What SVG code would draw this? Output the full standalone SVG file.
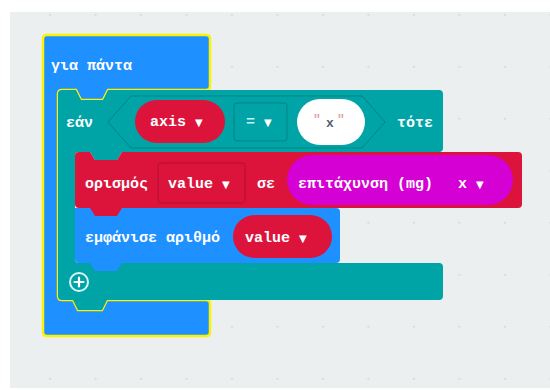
<svg xmlns="http://www.w3.org/2000/svg" width="550" height="390" viewBox="0 0 550 390">
<defs>
<style>
.t{font-family:"Liberation Mono","DejaVu Sans Mono",monospace;font-weight:bold;font-size:15px;fill:#ffffff}
.arr{font-family:"DejaVu Sans",sans-serif;font-size:10px;font-weight:normal}
.blue{fill:#1e90ff}
.teal{fill:#00a4a6}
.red{fill:#dc143c}
.mag{fill:#d400d4}
.dot{fill:#d6dadd}
</style>
<pattern id="grid" x="4.5" y="14" width="45.5" height="52" patternUnits="userSpaceOnUse">
<circle class="dot" cx="45.5" cy="0.5" r="1.2"/>
<circle class="dot" cx="0" cy="0.5" r="1.2"/>
</pattern>
</defs>
<rect x="0" y="0" width="550" height="390" fill="#ffffff"/>
<rect x="10" y="12" width="540" height="376" fill="#ebeff0"/>
<rect x="10" y="12" width="540" height="376" fill="url(#grid)"/>

<g id="forever">
<path class="blue" stroke="#fff200" stroke-width="2.5" d="M47,35 H206 Q210,35 210,39 V86 Q210,90 206,90 H108 L103,100 H81 L76,90 H62 Q58,90 58,94 V296 Q58,300 62,300 H73 L78,310 H102 L107,300 H206 Q210,300 210,304 V332 Q210,336 206,336 H47 Q43,336 43,332 V39 Q43,35 47,35 Z"/>
<text class="t" x="51" y="70">για πάντα</text>
</g>

<g id="if">
<path class="teal" d="M58,94 Q58,90 62,90 H76 L81,100 H103 L108,90 H439 Q443,90 443,94 V148 Q443,152 439,152 H122 L117,160 H95 L90,152 H79 Q75,152 75,156 V259 Q75,263 79,263 H439 Q443,263 443,267 V296 Q443,300 439,300 H107 L102,310 H78 L73,300 H62 Q58,300 58,296 Z"/>
<text class="t" x="66" y="127">εάν</text>
<text class="t" x="397" y="127">τότε</text>
<g id="plus">
<circle cx="79" cy="282" r="9" fill="none" stroke="#d8f6f6" stroke-width="2"/>
<path d="M79,277.5 V286.5 M74.5,282 H83.5" stroke="#ffffff" stroke-width="2.2" stroke-linecap="round"/>
</g>
</g>

<g id="compare">
<path class="teal" stroke="#008385" stroke-width="1" d="M108,122 L131,96 H362 L385,122 L362,148 H131 Z"/>
</g>

<g id="axis">
<rect class="red" x="135" y="100" width="90" height="43" rx="21.5"/>
<text class="t" x="150" y="126">axis <tspan class="arr">▼</tspan></text>
</g>

<g id="op">
<rect class="teal" stroke="#008385" stroke-width="1" x="234" y="103" width="53" height="38" rx="3"/>
<text class="t" x="246" y="126" style="fill:#c8f0f0">= <tspan class="arr" style="fill:#ffffff">▼</tspan></text>
</g>

<g id="string">
<rect x="297" y="99" width="68" height="46" rx="23" fill="#ffffff"/>
<text class="t" y="127" style="font-size:13px"><tspan x="313" dy="-4" style="fill:#e8a0a8">"</tspan><tspan x="326" dy="4" style="fill:#575e75">x</tspan><tspan x="337" dy="-4" style="fill:#e8a0a8">"</tspan></text>
</g>

<g id="show">
<path class="blue" d="M75,208 H336 Q340,208 340,212 V259 Q340,263 336,263 H122 L117,271 H95 L90,263 H79 Q75,263 75,259 Z"/>
<text class="t" x="85" y="242">εμφάνισε αριθμό</text>
</g>

<g id="valueReporter">
<rect class="red" x="233" y="215" width="99" height="43" rx="21.5"/>
<text class="t" x="245" y="242">value <tspan class="arr">▼</tspan></text>
</g>

<g id="set">
<path class="red" d="M75,156 Q75,152 79,152 H90 L95,160 H117 L122,152 H518 Q522,152 522,156 V204 Q522,208 518,208 H122 L117,216 H95 L90,208 H79 Q75,208 75,204 Z"/>
<text class="t" x="85" y="188">ορισμός</text>
<rect class="red" stroke="#b30f31" stroke-width="1" x="158" y="163" width="87" height="40" rx="3"/>
<text class="t" x="168" y="188">value <tspan class="arr">▼</tspan></text>
<text class="t" x="257" y="188">σε</text>
</g>

<g id="accel">
<rect class="mag" x="287" y="155" width="226" height="50" rx="25"/>
<text class="t" x="298" y="188">επιτάχυνση (mg)</text>
<text class="t" x="458" y="188">x <tspan class="arr">▼</tspan></text>
</g>

<g id="connectors"></g>
</svg>
